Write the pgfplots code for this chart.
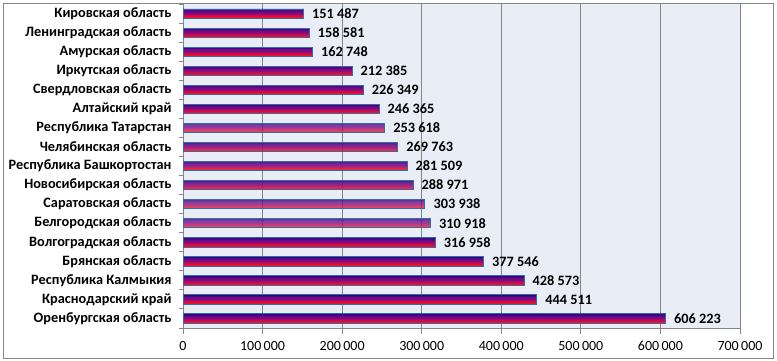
\documentclass[border=0pt]{standalone}
\usepackage{pgfplots}
\usepackage{pgfplotstable}
\pgfplotsset{compat=1.18}
\usepackage{fontspec}
\setmainfont{Carlito}
\definecolor{plotbg}{RGB}{233,237,246}
\definecolor{gridc}{RGB}{134,134,134}
\definecolor{bartop}{RGB}{35,5,130}
\definecolor{barmid}{RGB}{125,10,135}
\definecolor{barbot}{RGB}{240,15,45}
\definecolor{barline}{RGB}{55,105,165}
\pgfplotstableread{
v y
606223 0
444511 1
428573 2
377546 3
316958 4
310918 5
303938 6
288971 7
281509 8
269763 9
253618 10
246365 11
226349 12
212385 13
162748 14
158581 15
151487 16
}\data
\begin{document}
\begin{tikzpicture}
\path[use as bounding box] (0pt,0pt) rectangle (777pt,361pt);
\draw[gridc, line width=0.9pt] (3pt,3pt) rectangle (773pt,358pt);
\begin{axis}[
  at={(183pt,33pt)}, anchor=south west,
  scale only axis, width=557pt, height=324pt,
  xbar, bar width=1.15pt,
  xmin=0, xmax=700000,
  ymin=-0.5, ymax=16.5,
  axis background/.style={fill=plotbg},
  axis line style={gridc, line width=0.9pt},
  axis x line*=bottom, axis y line*=left,
  xmajorgrids, major grid style={gridc, line width=0.8pt},
  xtick={0,100000,...,700000},
  scaled x ticks=false,
  xticklabel style={font=\fontsize{14}{16}\selectfont, yshift=-4pt},
  /pgf/number format/assume math mode=true,
  /pgf/number format/fixed,
  /pgf/number format/precision=0,
  /pgf/number format/1000 sep={\,},
  ytick={0,...,16},
  yticklabels={Оренбургская область, Краснодарский край, Республика Калмыкия, Брянская область, Волгоградская область, Белгородская область, Саратовская область, Новосибирская область, Республика Башкортостан, Челябинская область, Республика Татарстан, Алтайский край, Свердловская область, Иркутская область, Амурская область, Ленинградская область, Кировская область},
  yticklabel style={font=\bfseries\fontsize{14.3}{16}\selectfont, xshift=-2pt},
  major y tick style={draw=none},
  minor ytick={-0.5,0.5,...,16.5},
  minor y tick style={gridc, line width=0.9pt},
  minor tick length=4pt,
  major x tick style={gridc, line width=0.9pt},
  major tick length=6pt,
  tick align=outside,
  clip=false,
]
\addplot[draw=none, fill=bartop, bar shift=4pt] table[x=v,y=y]{\data};
\addplot[draw=none, fill=barmid!40!bartop, bar shift=3pt] table[x=v,y=y]{\data};
\addplot[draw=none, fill=barmid!70!bartop, bar shift=2pt] table[x=v,y=y]{\data};
\addplot[draw=none, fill=barmid!90!bartop, bar shift=1pt] table[x=v,y=y]{\data};
\addplot[draw=none, fill=barmid, bar shift=0pt] table[x=v,y=y]{\data};
\addplot[draw=none, fill=barbot!30!barmid, bar shift=-1pt] table[x=v,y=y]{\data};
\addplot[draw=none, fill=barbot!55!barmid, bar shift=-2pt] table[x=v,y=y]{\data};
\addplot[draw=none, fill=barbot!80!barmid, bar shift=-3pt] table[x=v,y=y]{\data};
\addplot[draw=none, fill=barbot, bar shift=-4pt] table[x=v,y=y]{\data};
\addplot[draw=barline, fill=none, line width=0.7pt, bar width=9.3pt, bar shift=0pt,
  nodes near coords={\pgfmathprintnumber[fixed, precision=0, 1000 sep={\ }]{\pgfplotspointmeta}},
  nodes near coords style={font=\bfseries\fontsize{14.3}{16}\selectfont, anchor=west, xshift=5pt, text=black},
  point meta=x] table[x=v,y=y]{\data};
\end{axis}
\end{tikzpicture}
\end{document}
